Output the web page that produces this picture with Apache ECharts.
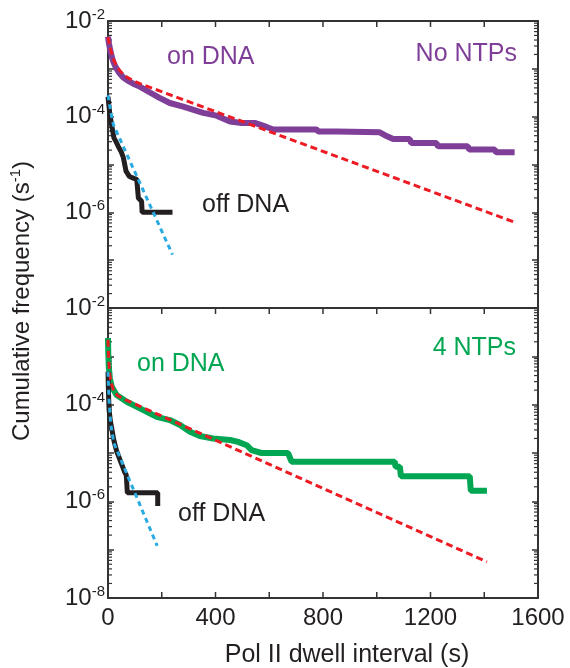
<!DOCTYPE html>
<html>
<head>
<meta charset="utf-8">
<script src="https://cdn.jsdelivr.net/npm/echarts@6/dist/echarts.min.js"></script>
<style>
  html, body { margin: 0; padding: 0; background: #fff; }
  #chart { width: 570px; height: 668px; }
</style>
</head>
<body>
<div id="chart"></div>
<script>
// Dwell-interval survival curves (cumulative frequency, s^-1) vs dwell time (s)

// ---- No NTPs panel ----
const noNtpOnDna = [
  [0, 4.7e-3], [4, 3.3e-3], [8, 2.5e-3], [14, 1.8e-3], [20, 1.4e-3], [28, 1.1e-3],
  [40, 8.5e-4], [57, 6.6e-4], [75, 5.6e-4], [94, 4.9e-4], [120, 4.2e-4], [156, 3.2e-4],
  [190, 2.5e-4], [230, 1.93e-4], [280, 1.62e-4], [354, 1.2e-4], [404, 1.05e-4],
  [454, 7.9e-5], [497, 7.4e-5], [546, 7.4e-5], [590, 6.1e-5], [615, 5.4e-5],
  [776, 5.4e-5], [782, 4.9e-5], [850, 4.9e-5], [855, 4.7e-5], [1011, 4.7e-5],
  [1030, 4.1e-5], [1061, 3.4e-5], [1123, 3.4e-5], [1128, 2.8e-5], [1222, 2.8e-5],
  [1228, 2.4e-5], [1339, 2.4e-5], [1344, 2.05e-5], [1439, 2.05e-5], [1444, 1.8e-5],
  [1513, 1.8e-5]
];
const noNtpOnDnaFit = [
  [0, 4.6e-3], [5, 3.3e-3], [10, 2.5e-3], [20, 1.6e-3], [30, 1.2e-3], [45, 9e-4],
  [65, 7e-4], [90, 5.8e-4], [119, 4.9e-4], [1513, 6.2e-7]
];
const noNtpOffDna = [
  [0, 2.6e-4], [4, 1.6e-4], [7, 1.1e-4], [15, 6e-5], [22, 3.6e-5], [30, 3e-5],
  [38, 2.4e-5], [50, 1.8e-5], [57, 1.4e-5], [67, 7.3e-6], [80, 5.6e-6], [94, 5.2e-6],
  [107, 4.9e-6], [113, 2.0e-6], [125, 1.7e-6], [127, 1.0e-6], [240, 1.0e-6]
];
const noNtpOffDnaFit = [
  [0, 2.8e-4], [10, 1.3e-4], [20, 6.8e-5], [240, 1.3e-7]
];

// ---- 4 NTPs panel ----
const ntpOnDna = [
  [0, 2.4e-3], [1, 1.2e-3], [3, 6e-4], [7, 3.5e-4], [14, 2.35e-4], [32, 1.58e-4],
  [70, 1.15e-4], [119, 8.4e-5], [181, 5.6e-5], [230, 4.8e-5], [268, 3.8e-5],
  [305, 2.75e-5], [342, 2.24e-5], [391, 2e-5], [454, 1.86e-5], [484, 1.7e-5],
  [516, 1.45e-5], [534, 1.15e-5], [571, 1e-5], [670, 1e-5], [683, 6.6e-6],
  [1067, 6.6e-6], [1070, 5.2e-6], [1086, 5.2e-6], [1090, 3.3e-6], [1346, 3.3e-6],
  [1350, 1.66e-6], [1410, 1.66e-6]
];
const ntpOnDnaFit = [
  [0, 2.2e-3], [2, 1.1e-3], [4, 6.5e-4], [7, 4e-4], [12, 2.8e-4], [20, 2.05e-4],
  [35, 1.55e-4], [60, 1.3e-4], [1410, 5.6e-8]
];
const ntpOffDna = [
  [0, 4.8e-4], [2, 1.6e-4], [4, 7.8e-5], [9, 4.5e-5], [14, 3.2e-5], [22, 1.8e-5],
  [32, 1.1e-5], [50, 6e-6], [62, 4e-6], [68, 3.5e-6], [72, 1.5e-6], [185, 1.5e-6],
  [185, 8e-7]
];
const ntpOffDnaFit = [
  [0, 4.8e-4], [4, 1.2e-4], [10, 4e-5], [22, 1.6e-5], [183, 1.2e-7]
];

// ---- axes ----
const xMin = 0, xMax = 1600, xStep = 200;
const xTickValues = [200, 400, 600, 800, 1000, 1200, 1400];
const xLabelValues = [0, 400, 800, 1200, 1600];
const yMin = 1e-8, yMax = 1e-2;
const topPanelExponents = [-2, -4, -6];
const bottomPanelExponents = [-2, -4, -6, -8];

const FONT = 'Liberation Sans, Arial, Helvetica, sans-serif';
const INK = '#231f20';
const AXIS = '#333333';
const PURPLE = '#7f3f98';
const GREEN = '#00a651';
const RED = '#ed1c24';
const BLUE = '#29abe2';

// minor tick positions on the log axes (2..9 within each decade)
const minorTicks = [];
for (let e = -8; e < -2; e++) {
  for (let m = 2; m <= 9; m++) minorTicks.push([xMin, m * Math.pow(10, e)]);
}
const xTicks = xTickValues.map(function (v) { return [v, yMax]; });

function yLabel(exps) {
  return function (v) {
    const n = Math.round(Math.log10(v));
    if (exps.indexOf(n) < 0) return '';
    return '{b|10}{s|' + n + '}';
  };
}
const yRich = {
  b: { fontSize: 24, fontFamily: FONT, color: INK, lineHeight: 28 },
  s: { fontSize: 15, fontFamily: FONT, color: INK, verticalAlign: 'top', lineHeight: 18 }
};

function xAxisCfg(grid, pos, withLabels) {
  return {
    type: 'value', gridIndex: grid, position: pos, min: xMin, max: xMax, interval: xStep,
    axisLine: { show: true, onZero: false, lineStyle: { color: AXIS, width: 2 } },
    axisTick: { show: false },
    axisLabel: {
      show: withLabels, margin: 8, fontSize: 24, fontFamily: FONT, color: INK,
      formatter: function (v) { return xLabelValues.indexOf(v) >= 0 ? String(v) : ''; }
    },
    splitLine: { show: false }
  };
}
function yAxisCfg(grid, pos, exps) {
  const cfg = {
    type: 'log', logBase: 10, gridIndex: grid, position: pos, min: yMin, max: yMax, splitNumber: 6,
    axisLine: { show: true, onZero: false, lineStyle: { color: AXIS, width: 2 } },
    axisTick: { show: true, inside: true, length: 6, lineStyle: { color: AXIS, width: 1.5 } },
    axisLabel: { show: false },
    splitLine: { show: false }
  };
  if (exps) {
    cfg.axisLabel = { show: true, margin: 3, formatter: yLabel(exps), rich: yRich };
  }
  return cfg;
}

// short minor ticks on both vertical edges of a panel
function minorTickSeries(grid) {
  return {
    type: 'custom', xAxisIndex: grid * 2, yAxisIndex: grid * 2, clip: false, silent: true,
    data: minorTicks,
    renderItem: function (params, api) {
      const v = api.value(1);
      const l = api.coord([xMin, v]);
      const r = api.coord([xMax, v]);
      return {
        type: 'group', children: [
          { type: 'line', shape: { x1: l[0], y1: l[1], x2: l[0] + 4, y2: l[1] }, style: { stroke: AXIS, lineWidth: 1.2 } },
          { type: 'line', shape: { x1: r[0] - 4, y1: r[1], x2: r[0], y2: r[1] }, style: { stroke: AXIS, lineWidth: 1.2 } }
        ]
      };
    }
  };
}

// inward x ticks: along the top edge of each panel, and the bottom edge of the lower panel
function xTickSeries(grid, withBottom) {
  return {
    type: 'custom', xAxisIndex: grid * 2, yAxisIndex: grid * 2, clip: false, silent: true,
    data: xTicks,
    renderItem: function (params, api) {
      const v = api.value(0);
      const t = api.coord([v, yMax]);
      const b = api.coord([v, yMin]);
      const kids = [
        { type: 'line', shape: { x1: t[0], y1: t[1], x2: t[0], y2: t[1] + 6 }, style: { stroke: AXIS, lineWidth: 1.5 } }
      ];
      if (withBottom) {
        kids.push({ type: 'line', shape: { x1: b[0], y1: b[1] - 6, x2: b[0], y2: b[1] }, style: { stroke: AXIS, lineWidth: 1.5 } });
      }
      return { type: 'group', children: kids };
    }
  };
}

function dataLine(data, grid, color, width) {
  return {
    type: 'line', xAxisIndex: grid * 2, yAxisIndex: grid * 2, data: data,
    symbol: 'none', smooth: false, z: 3,
    lineStyle: { color: color, width: width }
  };
}
function fitLine(data, grid, color, dash) {
  return {
    type: 'line', xAxisIndex: grid * 2, yAxisIndex: grid * 2, data: data,
    symbol: 'none', smooth: false, z: 4,
    lineStyle: { color: color, width: 3, type: dash }
  };
}

function label(text, x, y, color, align, size) {
  return {
    type: 'text', x: x, y: y, z: 10,
    style: {
      text: text, fill: color, fontSize: size || 25, fontFamily: FONT,
      textAlign: align || 'left', textVerticalAlign: 'middle'
    }
  };
}

const chart = echarts.init(document.getElementById('chart'));
chart.setOption({
  animation: false,
  grid: [
    { left: 108, top: 21, width: 430, height: 287 },
    { left: 108, top: 308, width: 430, height: 290 }
  ],
  xAxis: [
    xAxisCfg(0, 'bottom', false),
    xAxisCfg(0, 'top', false),
    xAxisCfg(1, 'bottom', true),
    xAxisCfg(1, 'top', false)
  ],
  yAxis: [
    yAxisCfg(0, 'left', topPanelExponents),
    yAxisCfg(0, 'right', null),
    yAxisCfg(1, 'left', bottomPanelExponents),
    yAxisCfg(1, 'right', null)
  ],
  series: [
    minorTickSeries(0),
    minorTickSeries(1),
    xTickSeries(0, false),
    xTickSeries(1, true),
    dataLine(noNtpOnDna, 0, PURPLE, 6),
    dataLine(noNtpOffDna, 0, INK, 5),
    fitLine(noNtpOnDnaFit, 0, RED, [7, 4]),
    fitLine(noNtpOffDnaFit, 0, BLUE, [5, 4]),
    dataLine(ntpOnDna, 1, GREEN, 6),
    dataLine(ntpOffDna, 1, INK, 5),
    fitLine(ntpOnDnaFit, 1, RED, [7, 4]),
    fitLine(ntpOffDnaFit, 1, BLUE, [5, 4])
  ],
  graphic: [
    label('on DNA', 167, 57, PURPLE),
    label('No NTPs', 517, 54, PURPLE, 'right'),
    label('off DNA', 202, 205, INK),
    label('on DNA', 137, 364, GREEN),
    label('4 NTPs', 516, 348, GREEN, 'right'),
    label('off DNA', 178, 514, INK),
    label('Pol II dwell interval (s)', 347, 655, INK, 'center', 25),
    {
      type: 'text', x: 22, y: 301, rotation: Math.PI / 2, z: 10,
      style: {
        text: '{a|Cumulative frequency (s}{s|-1}{a|)}',
        textAlign: 'center', textVerticalAlign: 'middle',
        rich: {
          a: { fontSize: 24, fontFamily: FONT, fill: INK, lineHeight: 28 },
          s: { fontSize: 15, fontFamily: FONT, fill: INK, verticalAlign: 'top', lineHeight: 18 }
        }
      }
    }
  ]
});
</script>
</body>
</html>
